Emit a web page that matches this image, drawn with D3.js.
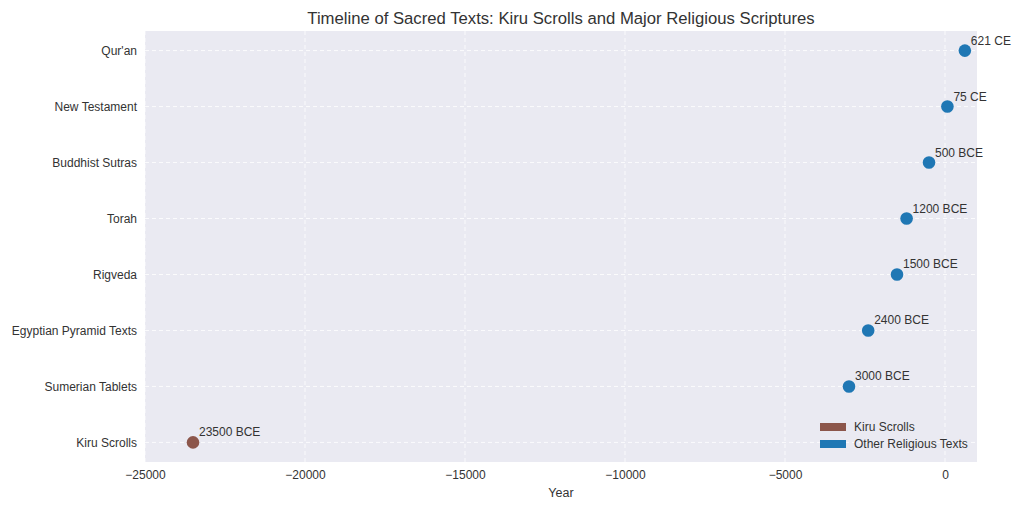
<!DOCTYPE html>
<html>
<head>
<meta charset="utf-8">
<script src="https://d3js.org/d3.v7.min.js"></script>
<style>
  body { margin: 0; background: #fff; }
  text { font-family: "Liberation Sans", Arial, sans-serif; }
</style>
</head>
<body>
<div id="chart"></div>
<script>
// data
var texts = ["Kiru Scrolls", "Sumerian Tablets", "Egyptian Pyramid Texts", "Rigveda",
             "Torah", "Buddhist Sutras", "New Testament", "Qur'an"];
var years = [-23500, -3000, -2400, -1500, -1200, -500, 75, 621];
var yearLabels = ["23500 BCE", "3000 BCE", "2400 BCE", "1500 BCE", "1200 BCE", "500 BCE", "75 CE", "621 CE"];
var groups = ["Kiru Scrolls", "Other", "Other", "Other", "Other", "Other", "Other", "Other"];
var xTicks = [-25000, -20000, -15000, -10000, -5000, 0];
var legendItems = ["Kiru Scrolls", "Other Religious Texts"];

var colors = { "Kiru Scrolls": "#8c564b", "Other": "#1f77b4" };
var legendColors = ["#8c564b", "#1f77b4"];

var margin = {top: 31, right: 47, bottom: 50, left: 145},
    width = 1024 - margin.left - margin.right,
    height = 512 - margin.top - margin.bottom;

var svg = d3.select("#chart")
  .append("svg")
    .attr("width", 1024)
    .attr("height", 512)
  .append("g")
    .attr("transform", "translate(" + margin.left + "," + margin.top + ")");

var x = d3.scaleLinear()
  .domain([-25000, 1000])
  .range([0, width]);

var y = d3.scaleLinear()
  .domain([-0.35, texts.length - 1 + 0.35])
  .range([height, 0]);

svg.append("rect")
  .attr("width", width)
  .attr("height", height)
  .attr("fill", "#eaeaf2");

// grid
svg.selectAll(".vgrid")
  .data(xTicks)
  .enter().append("line")
    .attr("x1", function(d) { return x(d); })
    .attr("x2", function(d) { return x(d); })
    .attr("y1", 0)
    .attr("y2", height)
    .attr("stroke", "#fff")
    .attr("stroke-dasharray", "4,3")
    .attr("stroke-width", 0.8);

svg.selectAll(".hgrid")
  .data(texts)
  .enter().append("line")
    .attr("x1", 0)
    .attr("x2", width)
    .attr("y1", function(d, i) { return y(i); })
    .attr("y2", function(d, i) { return y(i); })
    .attr("stroke", "#fff")
    .attr("stroke-dasharray", "4,3")
    .attr("stroke-width", 0.8);

// axes
var xAxis = svg.append("g")
  .attr("transform", "translate(0," + height + ")")
  .call(d3.axisBottom(x).tickValues(xTicks).tickSize(0).tickPadding(8)
    .tickFormat(function(d) { return d < 0 ? "\u2212" + Math.abs(d) : d; }));
xAxis.select(".domain").remove();
xAxis.selectAll("text").attr("fill", "#333").style("font-size", "12px");

var yAxis = svg.append("g")
  .call(d3.axisLeft(y).tickValues(d3.range(texts.length)).tickSize(0).tickPadding(8)
    .tickFormat(function(d) { return texts[d]; }));
yAxis.select(".domain").remove();
yAxis.selectAll("text").attr("fill", "#333").style("font-size", "12px");

// points
svg.selectAll(".dot")
  .data(years)
  .enter().append("circle")
    .attr("cx", function(d) { return x(d); })
    .attr("cy", function(d, i) { return y(i); })
    .attr("r", 6.3)
    .attr("fill", function(d, i) { return colors[groups[i]]; });

svg.selectAll(".lbl")
  .data(years)
  .enter().append("text")
    .attr("x", function(d) { return x(d) + 6; })
    .attr("y", function(d, i) { return y(i) - 6; })
    .attr("fill", "#333")
    .style("font-size", "12px")
    .text(function(d, i) { return yearLabels[i]; });

// title and label
svg.append("text")
  .attr("x", width / 2)
  .attr("y", -7)
  .attr("text-anchor", "middle")
  .attr("fill", "#333")
  .style("font-size", "16.7px")
  .text("Timeline of Sacred Texts: Kiru Scrolls and Major Religious Scriptures");

svg.append("text")
  .attr("x", width / 2)
  .attr("y", height + 35)
  .attr("text-anchor", "middle")
  .attr("fill", "#333")
  .style("font-size", "12.5px")
  .text("Year");

// legend
var legend = svg.append("g")
  .attr("transform", "translate(" + (width - 157) + "," + (height - 39) + ")");

legend.selectAll("rect")
  .data(legendItems)
  .enter().append("rect")
    .attr("x", 0)
    .attr("y", function(d, i) { return i * 17; })
    .attr("width", 26)
    .attr("height", 8)
    .attr("fill", function(d, i) { return legendColors[i]; });

legend.selectAll("text")
  .data(legendItems)
  .enter().append("text")
    .attr("x", 34)
    .attr("y", function(d, i) { return i * 17 + 8; })
    .attr("fill", "#333")
    .style("font-size", "12px")
    .text(function(d) { return d; });
</script>
</body>
</html>
